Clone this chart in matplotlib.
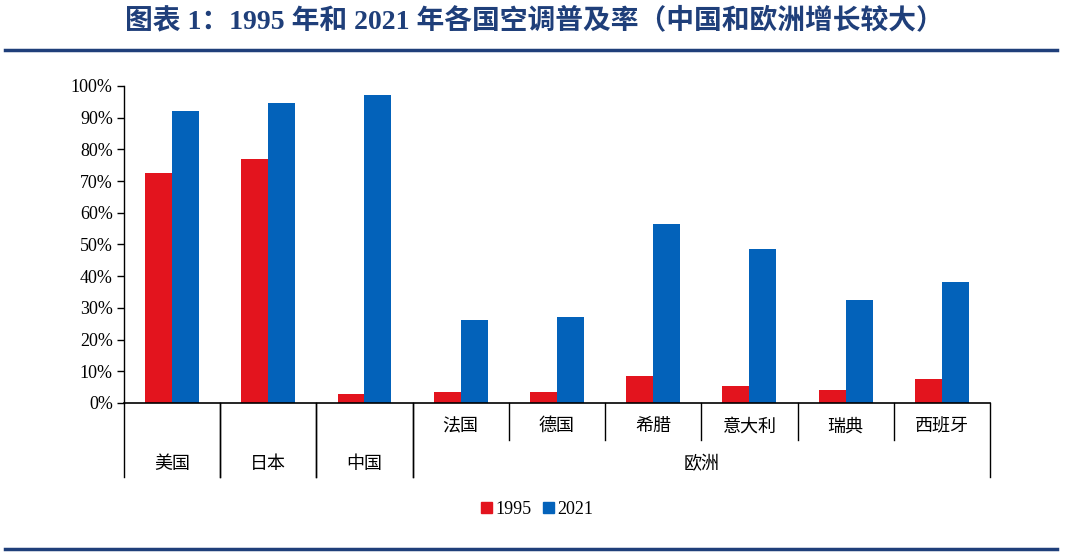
import numpy as np
import matplotlib
matplotlib.use("Agg")
import matplotlib.pyplot as plt
from matplotlib.lines import Line2D
from matplotlib.patches import Patch

plt.rcParams['font.family'] = ['Liberation Serif', 'Noto Sans CJK SC']

# data
countries = ['美国', '日本', '中国', '法国', '德国', '希腊', '意大利', '瑞典', '西班牙']
groups = [('美国', 0, 0), ('日本', 1, 1), ('中国', 2, 2), ('欧洲', 3, 8)]
v1995 = [72.5, 77.0, 2.8, 3.4, 3.6, 8.5, 5.4, 4.2, 7.6]
v2021 = [92.0, 94.5, 97.0, 26.3, 27.0, 56.5, 48.5, 32.4, 38.3]
yticks = [0, 10, 20, 30, 40, 50, 60, 70, 80, 90, 100]

red = '#E3141E'
blue = '#0362BA'
navy = '#1F3F7A'

fig = plt.figure(figsize=(10.68, 5.54), dpi=100)
ax = fig.add_axes([0.116, 0.2726, 0.811, 0.5724])

x = np.arange(len(countries))
w = 0.28
ax.bar(x - w/2, v1995, w, color=red, label='1995')
ax.bar(x + w/2, v2021, w, color=blue, label='2021')

ax.set_xlim(-0.5, len(countries) - 0.5)
ax.set_ylim(0, 100)
ax.set_yticks(yticks)
ax.set_yticklabels([f'{t}%' for t in yticks], fontsize=13)
ax.tick_params(axis='y', direction='out', length=5, width=1, pad=3)
ax.set_xticks([])
for s in ['top', 'right']:
    ax.spines[s].set_visible(False)
ax.spines['left'].set_linewidth(1)
ax.spines['bottom'].set_linewidth(1.2)

# two-level category axis
trans = ax.get_xaxis_transform()
sub_y, grp_y = -0.116, -0.233
for name, a, b in groups:
    for edge in (a - 0.5, b + 0.5):
        ax.plot([edge, edge], [0, grp_y], color='black', lw=1, transform=trans, clip_on=False)
    ax.text((a + b) / 2, -0.195, name, transform=trans, ha='center', va='center', fontsize=13)
    if b > a:
        for i in range(a, b + 1):
            if i > a:
                ax.plot([i - 0.5, i - 0.5], [0, sub_y], color='black', lw=1,
                        transform=trans, clip_on=False)
            ax.text(i, -0.075, countries[i], transform=trans, ha='center', va='center', fontsize=13)

handles = [Patch(color=red, label='1995'), Patch(color=blue, label='2021')]
fig.legend(handles=handles, loc='center', bbox_to_anchor=(0.503, 0.081), ncol=2, frameon=False,
           fontsize=13, handlelength=0.6, handleheight=0.6, handletextpad=0.2, columnspacing=0.6)

fig.text(0.5, 0.962, '图表 1：1995 年和 2021 年各国空调普及率（中国和欧洲增长较大）',
         ha='center', va='center', fontsize=20, fontweight='bold', color=navy)
fig.add_artist(Line2D([0.005, 0.99], [0.91, 0.91], color=navy, lw=2.5))
fig.add_artist(Line2D([0.005, 0.99], [0.009, 0.009], color=navy, lw=2.5))

fig.savefig('out.png', dpi=100)
